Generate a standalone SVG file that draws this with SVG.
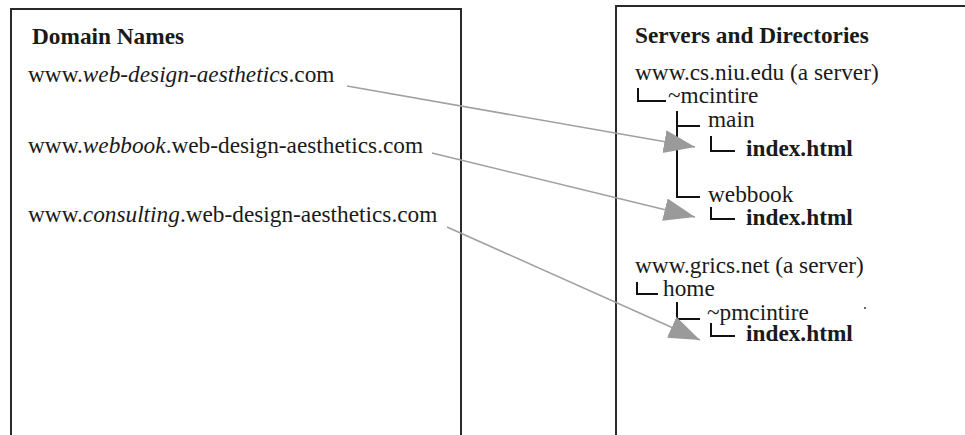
<svg xmlns="http://www.w3.org/2000/svg" width="965" height="435" viewBox="0 0 965 435">
<defs>
<style>
text{font-family:"Liberation Serif","Times New Roman",serif;font-size:23.3px;fill:#1a1a1a}
.b{font-weight:bold}
.i{font-style:italic}
.frame{fill:none;stroke:#2a2a2a;stroke-width:2}
.tree{fill:none;stroke:#111;stroke-width:2}
.conn{fill:none;stroke:#a0a0a0;stroke-width:1.6}
</style>
<marker id="ah" markerUnits="userSpaceOnUse" markerWidth="34" markerHeight="26" refX="31" refY="11.5" orient="auto" viewBox="0 0 34 26">
<path d="M0,0 L31,11.5 L0,23 Z" fill="#9a9a9a"/>
</marker>
</defs>
<rect width="965" height="435" fill="#fff"/>
<g id="domain-panel">
<path class="frame" d="M11,436 V9 H461 V436"/>
<text class="b" x="32" y="44">Domain Names</text>
</g>
<g id="domain1"><text x="28" y="82">www.<tspan class="i">web-design-aesthetics</tspan>.com</text></g>
<g id="domain2"><text x="28" y="153">www.<tspan class="i">webbook</tspan>.web-design-aesthetics.com</text></g>
<g id="domain3"><text x="28" y="222">www.<tspan class="i">consulting</tspan>.web-design-aesthetics.com</text></g>
<g id="server-panel">
<path class="frame" d="M616,436 V6 H966"/>
<text class="b" x="635" y="43">Servers and Directories</text>
<circle cx="865" cy="308" r="1" fill="#333"/>
</g>
<g id="server1">
<text x="635" y="80">www.cs.niu.edu (a server)</text>
<path class="tree" d="M638,88 V101 H666"/>
<text x="668" y="103">~mcintire</text>
<path class="tree" d="M677,111 V197 H700 M677,126 H700"/>
</g>
<g id="main">
<text x="708" y="127">main</text>
<path class="tree" d="M711,136 V151 H735"/>
</g>
<g id="index1"><text class="b" x="746" y="156">index.html</text></g>
<g id="webbook">
<text x="708" y="202">webbook</text>
<path class="tree" d="M711,207 V219 H735"/>
</g>
<g id="index2"><text class="b" x="746" y="225">index.html</text></g>
<g id="server2">
<text x="635" y="273">www.grics.net (a server)</text>
<path class="tree" d="M637,282 V294 H658"/>
<text x="663" y="296">home</text>
</g>
<g id="pmcintire">
<path class="tree" d="M677,302 V319 H700"/>
<text x="707" y="320">~pmcintire</text>
<path class="tree" d="M711,323 V336 H735"/>
</g>
<g id="index3"><text class="b" x="746" y="341">index.html</text></g>
<g id="connectors">
<path class="conn" d="M347,86 L695,147" marker-end="url(#ah)"/>
<path class="conn" d="M432,153 L695,217" marker-end="url(#ah)"/>
<path class="conn" d="M447,227 L700,340" marker-end="url(#ah)"/>
</g>
</svg>
